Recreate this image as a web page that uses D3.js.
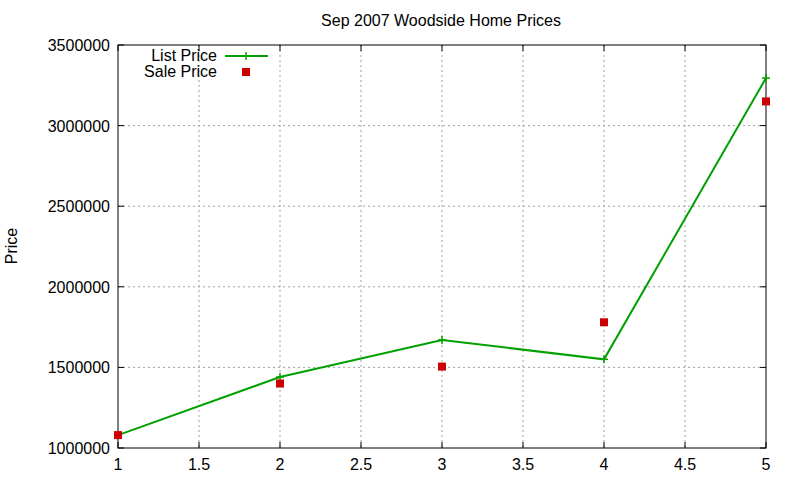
<!DOCTYPE html>
<html><head><meta charset="utf-8">
<script src="https://cdn.jsdelivr.net/npm/d3@7"></script>
<style>body{margin:0;background:#fff}text{font-family:"Liberation Sans",Arial,sans-serif}</style>
</head><body><svg id="c" width="800" height="480"></svg>
<script>
const xs = [1, 2, 3, 4, 5];
const listPrice = [1080000, 1440000, 1670000, 1550000, 3295000];
const salePrice = [1080000, 1400000, 1505000, 1780000, 3150000];
const xTicks = [1, 1.5, 2, 2.5, 3, 3.5, 4, 4.5, 5];
const yTicks = [1000000, 1500000, 2000000, 2500000, 3000000, 3500000];

const svg = d3.select("#c");
const L = 118, R = 766, T = 45, B = 448;
const FS = 16;
const x = d3.scaleLinear().domain([1, 5]).range([L, R]);
const y = d3.scaleLinear().domain([1000000, 3500000]).range([B, T]);

const g = svg.append("g");
xTicks.slice(1, -1).forEach(t => g.append("line").attr("x1", x(t)).attr("x2", x(t)).attr("y1", T).attr("y2", B)
  .attr("stroke", "#a0a0a0").attr("stroke-dasharray", "2,3"));
yTicks.slice(1, -1).forEach(t => g.append("line").attr("x1", L).attr("x2", R).attr("y1", y(t)).attr("y2", y(t))
  .attr("stroke", "#a0a0a0").attr("stroke-dasharray", "2,3"));
xTicks.forEach(t => {
  g.append("line").attr("x1", x(t)).attr("x2", x(t)).attr("y1", B).attr("y2", B - 6).attr("stroke", "#000");
  g.append("line").attr("x1", x(t)).attr("x2", x(t)).attr("y1", T).attr("y2", T + 6).attr("stroke", "#000");
  g.append("text").attr("x", x(t)).attr("y", B + 22).attr("text-anchor", "middle").attr("font-size", FS).text(t);
});
yTicks.forEach(t => {
  g.append("line").attr("x1", L).attr("x2", L + 6).attr("y1", y(t)).attr("y2", y(t)).attr("stroke", "#000");
  g.append("line").attr("x1", R).attr("x2", R - 6).attr("y1", y(t)).attr("y2", y(t)).attr("stroke", "#000");
  g.append("text").attr("x", L - 8).attr("y", y(t) + 6).attr("text-anchor", "end").attr("font-size", FS).text(t);
});
g.append("rect").attr("x", L).attr("y", T).attr("width", R - L).attr("height", B - T).attr("fill", "none").attr("stroke", "#000");

svg.append("text").attr("x", 441).attr("y", 26).attr("text-anchor", "middle").attr("font-size", FS).text("Sep 2007 Woodside Home Prices");
svg.append("text").attr("transform", "translate(17,246) rotate(-90)").attr("text-anchor", "middle").attr("font-size", FS).text("Price");

const green = "#00a000", red = "#cc0000";
const line = d3.line().x((d, i) => x(xs[i])).y(d => y(d));
svg.append("path").datum(listPrice).attr("d", line).attr("fill", "none").attr("stroke", green).attr("stroke-width", 2);
const plus = (cx, cy) => svg.append("path").attr("d", `M${cx-4},${cy}H${cx+4}M${cx},${cy-4}V${cy+4}`).attr("stroke", green).attr("stroke-width", 1.5);
listPrice.forEach((v, i) => plus(x(xs[i]), y(v)));
salePrice.forEach((v, i) => svg.append("rect").attr("x", x(xs[i]) - 4).attr("y", y(v) - 4).attr("width", 8).attr("height", 8).attr("fill", red));

svg.append("text").attr("x", 217).attr("y", 61).attr("text-anchor", "end").attr("font-size", FS).text("List Price");
svg.append("line").attr("x1", 225).attr("x2", 268).attr("y1", 56).attr("y2", 56).attr("stroke", green).attr("stroke-width", 2);
plus(246, 56);
svg.append("text").attr("x", 217).attr("y", 77).attr("text-anchor", "end").attr("font-size", FS).text("Sale Price");
svg.append("rect").attr("x", 242).attr("y", 68).attr("width", 8).attr("height", 8).attr("fill", red);
</script></body></html>
